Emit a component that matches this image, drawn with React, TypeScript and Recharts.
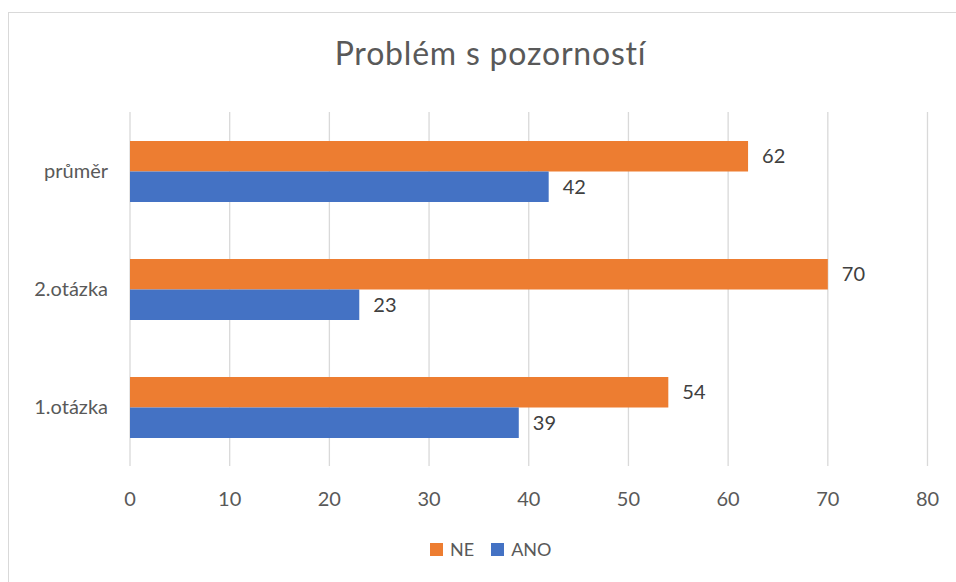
import React from "react";
import { BarChart, Bar, XAxis, YAxis, CartesianGrid, Legend, LabelList } from "recharts";

const categories = ["průměr", "2.otázka", "1.otázka"];
const neValues = [62, 70, 54];
const anoValues = [42, 23, 39];
const xTicks = [0, 10, 20, 30, 40, 50, 60, 70, 80];
const legendOrder = ["NE", "ANO"];

const data = categories.map((name, i) => ({ name, NE: neValues[i], ANO: anoValues[i] }));

const FONT = "Lato, 'Open Sans', sans-serif";

function LegendContent({ payload }: any) {
  const items = [...(payload || [])].sort(
    (a: any, b: any) => legendOrder.indexOf(a.value) - legendOrder.indexOf(b.value)
  );
  return (
    <div style={{ display: "flex", alignItems: "center", fontFamily: FONT, fontSize: 18, color: "#595959" }}>
      {items.map((p: any) => (
        <div key={p.value} style={{ display: "flex", alignItems: "center", marginRight: 17 }}>
          <span style={{ display: "inline-block", width: 13, height: 13, background: p.color, marginRight: 7 }} />
          <span>{p.value}</span>
        </div>
      ))}
    </div>
  );
}

export default function App() {
  return (
    <div style={{ position: "absolute", left: 0, top: 0, width: 956, height: 582, overflow: "hidden", background: "#fff" }}>
      <div
        style={{
          position: "absolute",
          left: 8,
          top: 12,
          width: 1000,
          height: 700,
          border: "1.3px solid #d9d9d9",
        }}
      />
      <div
        style={{
          position: "absolute",
          left: 0,
          top: 37,
          width: 981,
          textAlign: "center",
          fontFamily: FONT,
          fontSize: 32,
          letterSpacing: 0.8,
          lineHeight: "32px",
          color: "#595959",
        }}
      >
        Problém s pozorností
      </div>
      <div style={{ position: "absolute", left: 0, top: 0 }}>
        <BarChart
          width={956}
          height={582}
          data={data}
          layout="vertical"
          barGap={0}
          barSize={30.5}
          margin={{ top: 112, right: 28.5, left: 10, bottom: 86 }}
        >
          <CartesianGrid horizontal={false} stroke="#d9d9d9" strokeWidth={1.3} />
          <XAxis
            type="number"
            domain={[0, 80]}
            ticks={xTicks}
            axisLine={false}
            tickLine={false}
            height={30}
            tickMargin={20}
            tick={{ fill: "#595959", fontSize: 20, fontFamily: FONT }}
          />
          <YAxis
            type="category"
            dataKey="name"
            axisLine={false}
            tickLine={false}
            width={120}
            tickMargin={16}
            tick={{ fill: "#595959", fontSize: 20, fontFamily: FONT }}
          />
          <Legend
            verticalAlign="middle"
            align="center"
            content={<LegendContent />}
            wrapperStyle={{ left: 430, top: 538, width: "auto" }}
          />
          <Bar dataKey="NE" fill="#ED7D31" isAnimationActive={false}>
            <LabelList dataKey="NE" position="right" offset={14} fill="#404040" fontSize={20} fontFamily={FONT} />
          </Bar>
          <Bar dataKey="ANO" fill="#4472C4" isAnimationActive={false}>
            <LabelList dataKey="ANO" position="right" offset={14} fill="#404040" fontSize={20} fontFamily={FONT} />
          </Bar>
        </BarChart>
      </div>
    </div>
  );
}
